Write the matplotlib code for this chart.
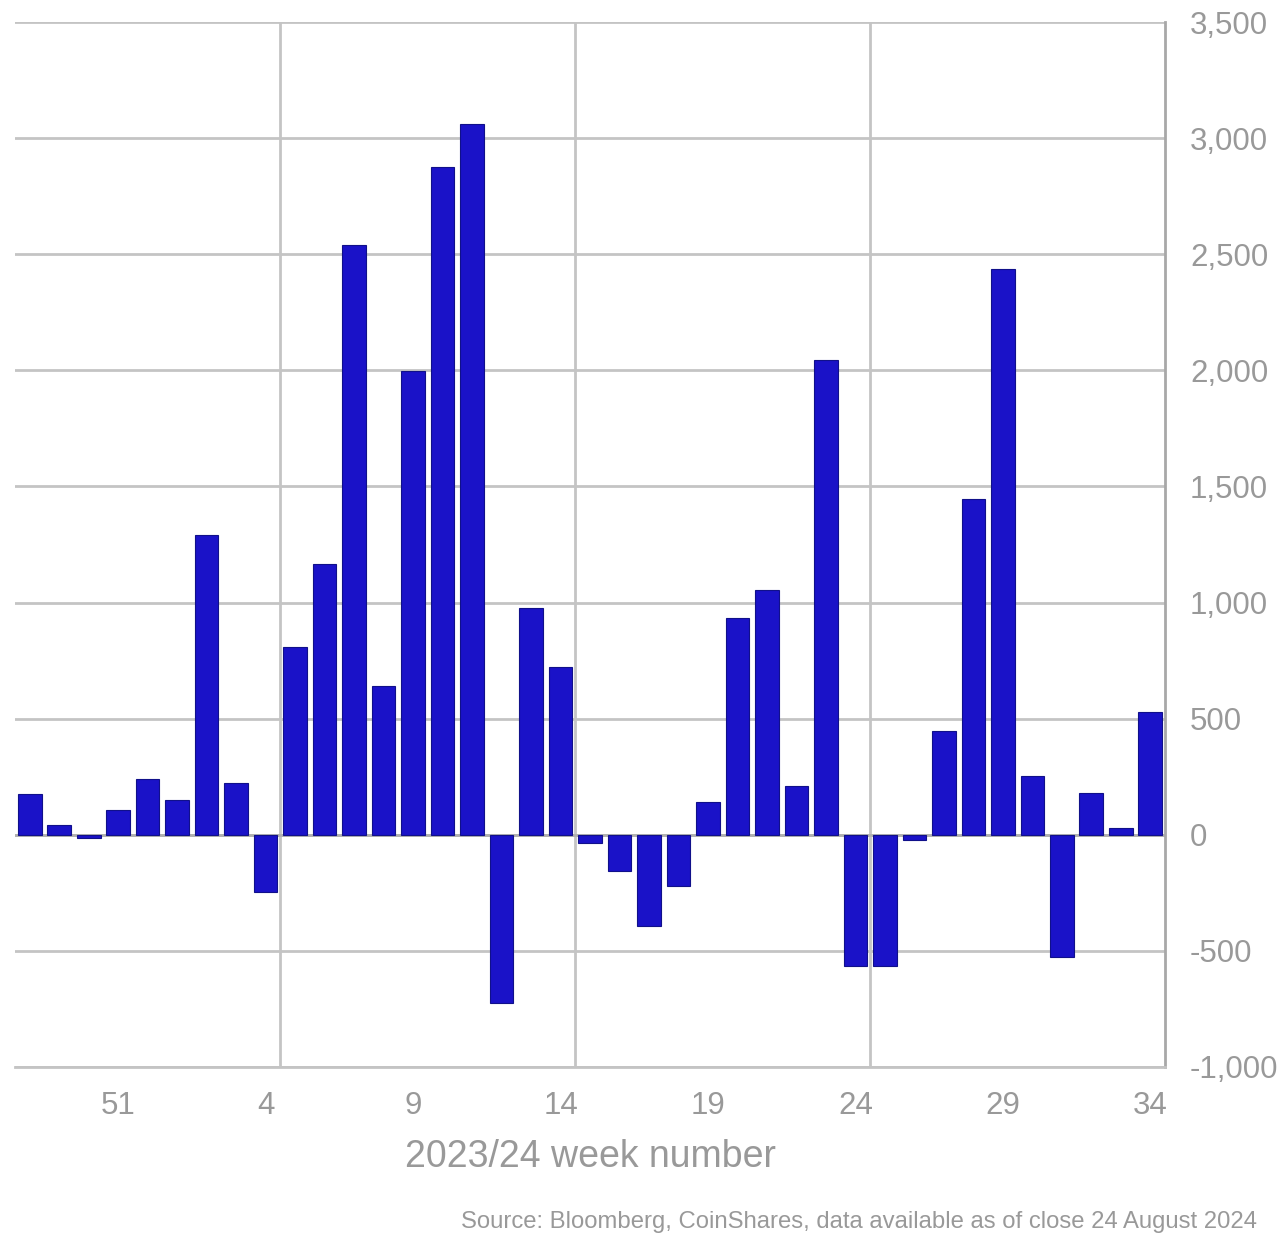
import matplotlib
matplotlib.use("Agg")
from matplotlib import pyplot as plt
from matplotlib.ticker import FuncFormatter

plt.rcParams['font.family'] = ['Liberation Sans', 'DejaVu Sans']

weeks = [48, 49, 50, 51, 52] + list(range(1, 35))
flows = [177, 43, -13, 108, 241, 151, 1289, 224, -246, 810,
         1164, 2539, 642, 1996, 2875, 3060, -724, 978, 724, -34,
         -155, -392, -220, 142, 935, 1052, 211, 2043, -565, -565,
         -22, 448, 1444, 2435, 254, -526, 181, 30, 530]
tick_weeks = [51, 4, 9, 14, 19, 24, 29, 34]
grid_after = [4, 14, 24]
grey = '#999999'

fig = plt.figure(figsize=(12.86, 12.52), dpi=100)
ax = fig.add_axes([15 / 1286, 1 - 1067 / 1252, 1150 / 1286, 1045 / 1252])

pos = list(range(len(weeks)))
ax.bar(pos, flows, width=0.8, color='#1a12c8', edgecolor='#10108a', linewidth=0.8, zorder=3)

ax.set_xlim(-0.5, len(weeks) - 0.5)
ax.set_ylim(-1000, 3500)
ax.set_yticks(range(-1000, 3501, 500))
ax.yaxis.set_major_formatter(FuncFormatter(lambda v, p: f'{int(v):,}'))
ax.yaxis.tick_right()
ax.grid(axis='y', color='#c4c4c4', linewidth=2, zorder=1)
for w in grid_after:
    ax.axvline(weeks.index(w) + 0.5, color='#c4c4c4', linewidth=2, zorder=1)
ax.axhline(0, color='#b0b0b0', linewidth=2, zorder=2)

ax.set_xticks([weeks.index(w) for w in tick_weeks])
ax.set_xticklabels([str(w) for w in tick_weeks])
ax.tick_params(axis='both', length=0, labelsize=22.5, colors=grey)
ax.tick_params(axis='y', pad=18)
ax.tick_params(axis='x', pad=17)

for s in ['top', 'left']:
    ax.spines[s].set_visible(False)
ax.spines['right'].set_color('#a8a8a8')
ax.spines['right'].set_linewidth(2)
ax.spines['bottom'].set_color('#c4c4c4')
ax.spines['bottom'].set_linewidth(2)

ax.set_xlabel('2023/24 week number', fontsize=27, color=grey, labelpad=13)
fig.text(1257 / 1286, 1 - 1222 / 1252, 'Source: Bloomberg, CoinShares, data available as of close 24 August 2024',
         ha='right', va='center', fontsize=17.2, color=grey)

fig.savefig('out.png', dpi=100)
